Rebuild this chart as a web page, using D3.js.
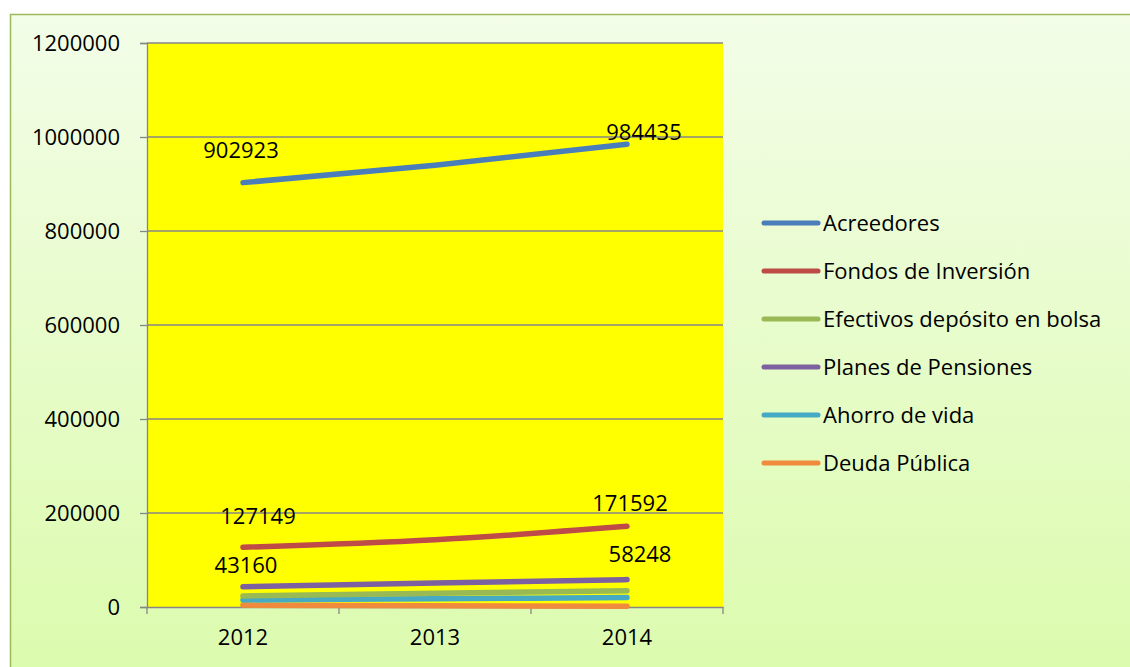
<!DOCTYPE html>
<html>
<head>
<meta charset="utf-8">
<script src="https://cdn.jsdelivr.net/npm/d3@7"></script>
<style>
  body { margin: 0; background: #fff; }
  text { font-family: "Open Sans", "Liberation Sans", sans-serif; fill: #000; }
</style>
</head>
<body>
<div id="chart"></div>
<script>
// years on the x axis
const years = ['2012', '2013', '2014'];

// series names and values
const seriesNames = ['Acreedores', 'Fondos de Inversión', 'Efectivos depósito en bolsa',
  'Planes de Pensiones', 'Ahorro de vida', 'Deuda Pública'];
const acreedores = [902923, 940000, 984435];
const fondos = [127149, 143000, 171592];
const efectivos = [23500, 29000, 34700];
const planes = [43160, 51000, 58248];
const ahorro = [15000, 17500, 20000];
const deuda = [4000, 2500, 1500];

const yTicks = [0, 200000, 400000, 600000, 800000, 1000000, 1200000];
const colors = ['#4A7EBB', '#BE4B48', '#98B954', '#7D60A0', '#46AAC5', '#F08A3C'];

const seriesData = [acreedores, fondos, efectivos, planes, ahorro, deuda];

let width = 1130,
  height = 667;

let svg = d3.select('#chart')
  .append('svg')
  .attr('width', width)
  .attr('height', height);

// chart area background
let defs = svg.append('defs');
let grad = defs.append('linearGradient')
  .attr('id', 'bg')
  .attr('x1', 0).attr('y1', 0).attr('x2', 0).attr('y2', 1);
grad.append('stop').attr('offset', '0%').attr('stop-color', '#F3FDE8');
grad.append('stop').attr('offset', '100%').attr('stop-color', '#DBFBAC');

svg.append('rect')
  .attr('x', 10.5).attr('y', 14.5)
  .attr('width', 1130).attr('height', 670)
  .attr('fill', 'url(#bg)')
  .attr('stroke', '#9BBB59')
  .attr('stroke-width', 1.5);

// plot area
let plot = { left: 147, top: 43, right: 723, bottom: 607 };

let x = d3.scaleBand()
  .domain(years)
  .range([plot.left, plot.right]);

let y = d3.scaleLinear()
  .domain([0, 1200000])
  .range([plot.bottom, plot.top]);

svg.append('rect')
  .attr('x', plot.left).attr('y', plot.top)
  .attr('width', plot.right - plot.left)
  .attr('height', plot.bottom - plot.top)
  .attr('fill', '#FFFF00');

// gridlines
svg.append('g')
  .selectAll('line')
  .data(yTicks.filter(d => d > 0))
  .enter()
  .append('line')
  .attr('x1', plot.left).attr('x2', plot.right)
  .attr('y1', d => y(d)).attr('y2', d => y(d))
  .attr('stroke', '#868686')
  .attr('stroke-width', 1.3);

// y axis
let yAxis = svg.append('g')
  .attr('transform', `translate(${plot.left},0)`)
  .call(d3.axisLeft(y).tickValues(yTicks).tickSize(7).tickPadding(20).tickFormat(d3.format('d')));
yAxis.selectAll('text').style('font-size', '22px');

// x axis
let xAxis = svg.append('g')
  .attr('transform', `translate(0,${plot.bottom})`)
  .call(d3.axisBottom(x).tickSize(0).tickPadding(22));
xAxis.selectAll('text').style('font-size', '22px');

// boundary ticks between categories
svg.append('g')
  .selectAll('line')
  .data(years.map(d => x(d)).concat([plot.right]))
  .enter()
  .append('line')
  .attr('x1', d => d).attr('x2', d => d)
  .attr('y1', plot.bottom).attr('y2', plot.bottom + 7)
  .attr('stroke', '#868686')
  .attr('stroke-width', 1.3);

svg.selectAll('.domain, .tick line')
  .attr('stroke', '#868686')
  .attr('stroke-width', 1.3);

// lines, drawn bottom series first
let line = d3.line()
  .x((d, i) => x(years[i]) + x.bandwidth() / 2)
  .y(d => y(d))
  .curve(d3.curveMonotoneX);

let order = [5, 4, 2, 3, 1, 0];
svg.append('g')
  .selectAll('path')
  .data(order)
  .enter()
  .append('path')
  .attr('d', i => line(seriesData[i]))
  .attr('fill', 'none')
  .attr('stroke', i => colors[i])
  .attr('stroke-width', 5.5)
  .attr('stroke-linecap', 'round');

// value labels for the first and last year
let labelOffsets = {
  0: [[-2, -25], [17, -4]],
  1: [[15, -23], [3, -15]],
  3: [[3, -14], [13, -18]]
};
Object.keys(labelOffsets).forEach(k => {
  let vals = seriesData[k];
  [0, 2].forEach((yi, j) => {
    let off = labelOffsets[k][j];
    svg.append('text')
      .attr('x', x(years[yi]) + x.bandwidth() / 2 + off[0])
      .attr('y', y(vals[yi]) + off[1])
      .attr('text-anchor', 'middle')
      .style('font-size', '22px')
      .text(vals[yi]);
  });
});

// legend
let legend = svg.append('g')
  .selectAll('g')
  .data(seriesNames)
  .enter()
  .append('g')
  .attr('transform', (d, i) => `translate(764,${223 + i * 48})`);

legend.append('line')
  .attr('x1', 0).attr('x2', 54)
  .attr('y1', 0).attr('y2', 0)
  .attr('stroke', (d, i) => colors[i])
  .attr('stroke-width', 5)
  .attr('stroke-linecap', 'round');

legend.append('text')
  .attr('x', 59)
  .attr('y', 8)
  .style('font-size', '22px')
  .text(d => d);
</script>
</body>
</html>
